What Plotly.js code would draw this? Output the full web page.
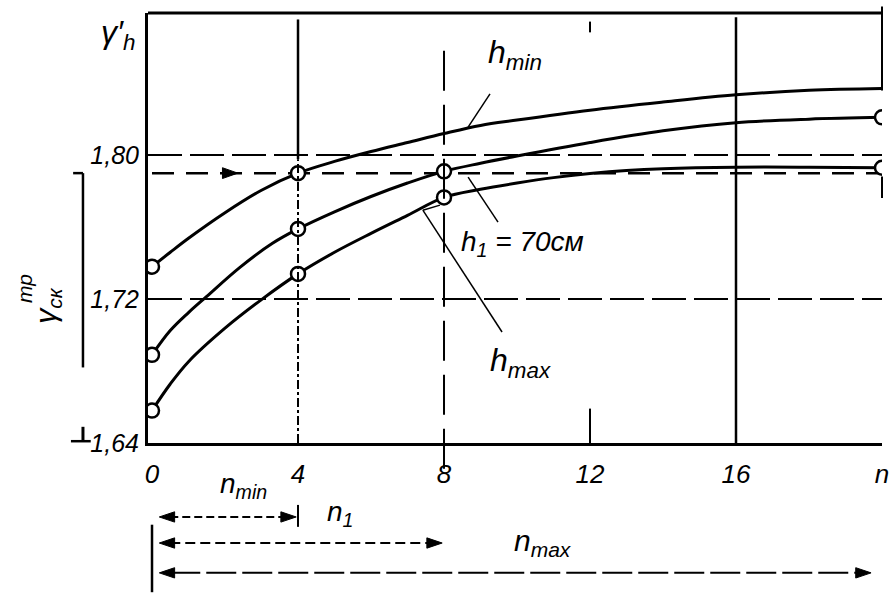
<!DOCTYPE html>
<html>
<head>
<meta charset="utf-8">
<script src="https://cdn.plot.ly/plotly-3.0.1.min.js"></script>
<style>html,body{margin:0;padding:0;background:#fff;}#chart{width:896px;height:596px;}</style>
</head>
<body>
<div id="chart"></div>
<script>
// ---- data ----
const xTicks = [0, 4, 8, 12, 16, 20];
const xTickText = ['0', '4', '8', '12', '16', 'n'];
const yTicks = [1.64, 1.72, 1.80];
const yTickText = ['1,64', '1,72', '1,80'];
const gammaReq = 1.790;            // required dry density (dashed line with arrow)
const nMin = 4, n1 = 8, nMax = 20; // layer counts marked below the axis

// curve h_min
const hMinX = [0, 0.5, 1, 2, 3, 4, 5, 6, 7, 8, 9, 10, 12, 14, 16, 18, 20];
const hMinY = [1.738, 1.746, 1.7538, 1.768, 1.7805, 1.790, 1.7965, 1.802, 1.807, 1.812, 1.8165, 1.8195, 1.825, 1.8295, 1.8335, 1.836, 1.837];
const hMinMarkIdx = [0, 5];

// curve h1 = 70 cm
const h1X = [0, 0.5, 1, 1.5, 2.4, 3.3, 4, 5, 6, 7, 8, 9, 10, 12, 14, 16, 18, 20];
const h1Y = [1.689, 1.7025, 1.7125, 1.7215, 1.7375, 1.751, 1.759, 1.7685, 1.777, 1.7845, 1.791, 1.7955, 1.7995, 1.807, 1.8135, 1.818, 1.820, 1.821];
const h1MarkIdx = [0, 6, 10, 17];

// curve h_max
const hMaxX = [0, 0.5, 1, 2, 3, 4, 5, 6, 7, 8, 9, 10, 11, 12, 13, 14, 16, 18, 20];
const hMaxY = [1.658, 1.6728, 1.6852, 1.7038, 1.7197, 1.734, 1.746, 1.7565, 1.7665, 1.7765, 1.781, 1.7845, 1.7875, 1.7898, 1.7915, 1.7925, 1.7933, 1.7933, 1.793];
const hMaxMarkIdx = [0, 5, 9, 18];

const FONT = '"Liberation Sans Narrow", "Liberation Sans", "DejaVu Sans Condensed", sans-serif';
const INK = '#000';

function curve(xs, ys) {
  return {x: xs, y: ys, mode: 'lines', type: 'scatter', hoverinfo: 'skip',
          line: {color: INK, width: 3, shape: 'spline', smoothing: 1}, showlegend: false};
}
function marks(xs, ys, idx) {
  return {x: idx.map(i => xs[i]), y: idx.map(i => ys[i]), mode: 'markers', type: 'scatter',
          hoverinfo: 'skip', showlegend: false,
          marker: {symbol: 'circle', size: 14, color: '#fff', line: {color: INK, width: 2.5}}};
}

const traces = [
  {x: [0, 20], y: [gammaReq, gammaReq], mode: 'lines', type: 'scatter', hoverinfo: 'skip',
   showlegend: false, line: {color: INK, width: 2.5, dash: '22px,12px'}},
  curve(hMinX, hMinY), curve(h1X, h1Y), curve(hMaxX, hMaxY),
  marks(hMinX, hMinY, hMinMarkIdx), marks(h1X, h1Y, h1MarkIdx), marks(hMaxX, hMaxY, hMaxMarkIdx)
];

const shapes = [];
const L = (o) => Object.assign({type: 'line', line: {color: INK, width: 2}}, o);
// vertical guide lines at the tick positions
shapes.push(L({xref: 'x', yref: 'paper', x0: xTicks[1], x1: xTicks[1], y0: 0.66, y1: 0.985, line: {color: INK, width: 2.5}}));
shapes.push(L({xref: 'x', yref: 'paper', x0: xTicks[1], x1: xTicks[1], y0: 0, y1: 0.66, line: {color: INK, width: 2, dash: 'dashdot'}}));
shapes.push(L({xref: 'x', yref: 'paper', x0: xTicks[2], x1: xTicks[2], y0: -0.06, y1: 0.93, line: {color: INK, width: 2, dash: '40px,14px'}}));
shapes.push(L({xref: 'x', yref: 'paper', x0: xTicks[3], x1: xTicks[3], y0: 0, y1: 0.08}));
shapes.push(L({xref: 'x', yref: 'paper', x0: xTicks[3], x1: xTicks[3], y0: 0.955, y1: 0.98}));
shapes.push(L({xref: 'x', yref: 'paper', x0: xTicks[4], x1: xTicks[4], y0: 0, y1: 0.99, line: {color: INK, width: 2.5}}));
// top frame and partial right frame
shapes.push(L({xref: 'paper', yref: 'paper', x0: 0, x1: 1, y0: 1, y1: 1, line: {color: INK, width: 3}}));
shapes.push(L({xref: 'paper', yref: 'paper', x0: 1, x1: 1, y0: 0.82, y1: 1.015, line: {color: INK, width: 2}}));
shapes.push(L({xref: 'paper', yref: 'paper', x0: 1, x1: 1, y0: 0.57, y1: 0.62, line: {color: INK, width: 2}}));
// left range bracket for the required density
shapes.push(L({xref: 'paper', yref: 'y', x0: -0.0886, x1: -0.0886, y0: 1.682, y1: gammaReq, line: {color: INK, width: 2.5}}));
shapes.push(L({xref: 'paper', yref: 'y', x0: -0.102, x1: -0.0886, y0: gammaReq, y1: gammaReq, line: {color: INK, width: 2.5}}));
shapes.push(L({xref: 'paper', yref: 'y', x0: -0.105, x1: -0.078, y0: 1.641, y1: 1.641, line: {color: INK, width: 2.5}}));
shapes.push(L({xref: 'paper', yref: 'y', x0: -0.0886, x1: -0.0886, y0: 1.641, y1: 1.649, line: {color: INK, width: 3}}));
// leader lines to the curve labels
shapes.push(L({xref: 'x', yref: 'y', x0: 9.26, x1: 8.66, y0: 1.834, y1: 1.8156, line: {color: INK, width: 1.5}}));
shapes.push(L({xref: 'x', yref: 'y', x0: 8.66, x1: 9.48, y0: 1.7878, y1: 1.7628, line: {color: INK, width: 1.5}}));
shapes.push(L({xref: 'x', yref: 'y', x0: 7.89, x1: 7.42, y0: 1.7722, y1: 1.7694, line: {color: INK, width: 1.5}}));
shapes.push(L({xref: 'x', yref: 'y', x0: 7.42, x1: 9.59, y0: 1.7694, y1: 1.7017, line: {color: INK, width: 1.5}}));
// n ranges below the axis
const yMin = -0.172, yOne = -0.2326, yMax = -0.302;
shapes.push(L({xref: 'x', yref: 'paper', x0: 0.5, x1: nMin - 0.4, y0: yMin, y1: yMin, line: {color: INK, width: 2, dash: '8px,4px'}}));
shapes.push(L({xref: 'x', yref: 'paper', x0: 0.5, x1: n1 - 0.4, y0: yOne, y1: yOne, line: {color: INK, width: 2, dash: '10px,5px'}}));
shapes.push(L({xref: 'x', yref: 'paper', x0: 0.5, x1: nMax - 0.6, y0: yMax, y1: yMax, line: {color: INK, width: 2, dash: '30px,6px'}}));
shapes.push(L({xref: 'x', yref: 'paper', x0: 0, x1: 0, y0: -0.19, y1: -0.347, line: {color: INK, width: 2.5}}));
shapes.push(L({xref: 'x', yref: 'paper', x0: nMin, x1: nMin, y0: -0.144, y1: -0.195, line: {color: INK, width: 2}}));

// filled arrowheads (tip at x, pointing in dir = +1 right / -1 left)
function head(x, y, dir, yref, halfH) {
  const len = 0.42 * dir;
  const p = 'M ' + x + ',' + y + ' L ' + (x - len) + ',' + (y + halfH) + ' L ' + (x - len) + ',' + (y - halfH) + ' Z';
  return {type: 'path', xref: 'x', yref: yref, path: p, fillcolor: INK, line: {color: INK, width: 1}};
}
const hp = 0.012; // half height in paper units
shapes.push(head(2.35, gammaReq, 1, 'y', 0.003));
shapes.push(head(0.2, yMin, -1, 'paper', hp), head(nMin - 0.05, yMin, 1, 'paper', hp));
shapes.push(head(0.2, yOne, -1, 'paper', hp), head(n1 - 0.05, yOne, 1, 'paper', hp));
shapes.push(head(0.2, yMax, -1, 'paper', hp), head(nMax - 0.3, yMax, 1, 'paper', hp));

function txt(x, y, text, size, extra) {
  return Object.assign({x: x, y: y, text: text, showarrow: false, xanchor: 'center', yanchor: 'middle',
    font: {family: FONT, size: size, color: INK, style: 'italic'}}, extra || {});
}

const annotations = [
  txt(9.95, 1.856, 'h<sub>min</sub>', 32, {xref: 'x', yref: 'y'}),
  txt(10.14, 1.751, 'h<sub>1</sub> = 70см', 28, {xref: 'x', yref: 'y'}),
  txt(10.1, 1.685, 'h<sub>max</sub>', 32, {xref: 'x', yref: 'y'}),
  txt(2.5, -0.098, 'n<sub>min</sub>', 28, {xref: 'x', yref: 'paper'}),
  txt(5.15, -0.165, 'n<sub>1</sub>', 28, {xref: 'x', yref: 'paper'}),
  txt(10.7, -0.232, 'n<sub>max</sub>', 30, {xref: 'x', yref: 'paper'}),
  txt(-0.041, 0.95, 'γ′<sub>h</sub>', 32, {xref: 'paper', yref: 'paper'}),
  txt(-0.137, 0.32, 'γ<sub>ск</sub>', 30, {xref: 'paper', yref: 'paper', textangle: -90}),
  txt(-0.168, 0.36, 'тр', 21, {xref: 'paper', yref: 'paper', textangle: -90})
];

const layout = {
  width: 896, height: 596,
  margin: {l: 148, r: 14, t: 13, b: 153},
  paper_bgcolor: '#fff', plot_bgcolor: '#fff',
  showlegend: false,
  xaxis: {range: [-0.11, 20], tickvals: xTicks, ticktext: xTickText, showgrid: false, zeroline: false,
          showline: true, linecolor: INK, linewidth: 3, ticks: '', ticklabelstandoff: 6,
          tickfont: {family: FONT, size: 26, color: INK, style: 'italic'}},
  yaxis: {range: [1.64, 1.879], tickvals: yTicks, ticktext: yTickText, showgrid: true, gridcolor: INK,
          gridwidth: 1.5, griddash: '34px,8px', zeroline: false, showline: true, linecolor: INK, linewidth: 3,
          ticks: '', ticklabelstandoff: 1,
          tickfont: {family: FONT, size: 25, color: INK, style: 'italic'}},
  shapes: shapes,
  annotations: annotations
};

Plotly.newPlot('chart', traces, layout, {staticPlot: true, displayModeBar: false});
</script>
</body>
</html>
